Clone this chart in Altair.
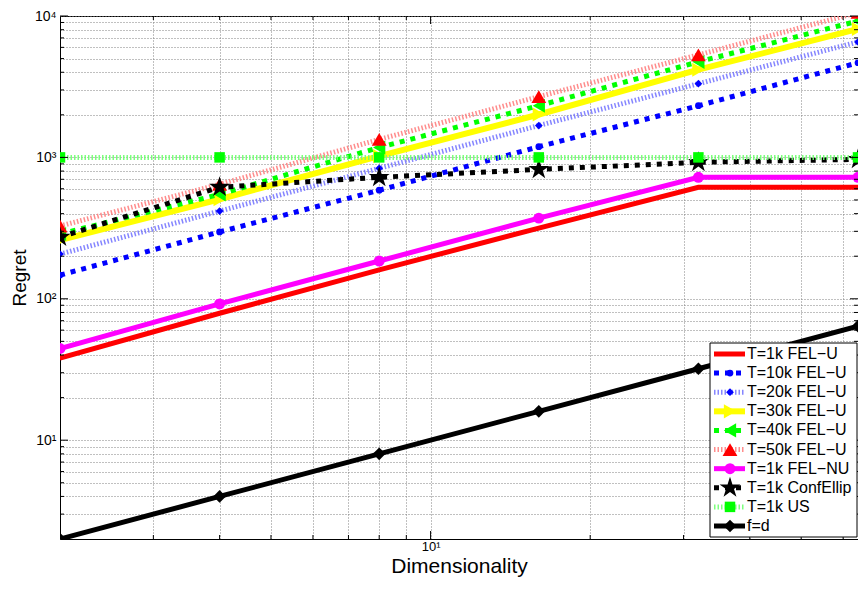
import altair as alt
import pandas as pd

dims = [2, 4, 8, 16, 32, 64]

names = [
    "T=1k FEL\u2212U", "T=10k FEL\u2212U", "T=20k FEL\u2212U", "T=30k FEL\u2212U",
    "T=40k FEL\u2212U", "T=50k FEL\u2212U", "T=1k FEL\u2212NU", "T=1k ConfEllip",
    "T=1k US", "f=d",
]
fel_u_1k = [38, 79, 160, 316, 615, 615]
fel_u_10k = [147, 297, 586, 1190, 2320, 4670]
fel_u_20k = [207, 417, 837, 1680, 3320, 6560]
fel_u_30k = [260, 506, 1020, 2010, 4170, 8090]
fel_u_40k = [287, 548, 1175, 2320, 4740, 9220]
fel_u_50k = [327, 645, 1340, 2690, 5310, 10600]
fel_nu_1k = [44.5, 92, 185, 372, 723, 723]
conf_ellip = [273, 615, 723, 822, 923, 968]
us_1k = [1000, 1000, 1000, 1000, 1000, 1000]
f_d = [2, 4, 8, 16, 32, 64]
series_vals = [fel_u_1k, fel_u_10k, fel_u_20k, fel_u_30k, fel_u_40k,
               fel_u_50k, fel_nu_1k, conf_ellip, us_1k, f_d]

x_grid = [2, 3, 4, 5, 6, 7, 8, 9, 10, 20, 30, 40, 50, 60]
y_grid = [2, 3, 4, 5, 6, 7, 8, 9, 10, 20, 30, 40, 50, 60, 70, 80, 90,
          100, 200, 300, 400, 500, 600, 700, 800, 900,
          1000, 2000, 3000, 4000, 5000, 6000, 7000, 8000, 9000, 10000]
x_major = [10]
y_major = [10, 100, 1000, 10000]

STAR = ("M0,-1L0.2245,-0.309L0.9511,-0.309L0.3633,0.118L0.5878,0.809L0,0.382"
        "L-0.5878,0.809L-0.3633,0.118L-0.9511,-0.309L-0.2245,-0.309Z")

styles = [
    dict(color="#ff0000", dash=None, width=5, opacity=1, shape="circle", size=10, mcolor="#ff0000"),
    dict(color="#0000ff", dash=[5, 6], width=5, opacity=1, shape="circle", size=45, mcolor="#0000ff"),
    dict(color="#7070ff", dash=[1.5, 2], width=5, opacity=0.85, shape="diamond", size=60, mcolor="#0000ff"),
    dict(color="#ffff00", dash=None, width=6, opacity=1, shape="triangle-right", size=200, mcolor="#ffff00"),
    dict(color="#00ff00", dash=[5, 6], width=5, opacity=1, shape="triangle-left", size=200, mcolor="#00ff00"),
    dict(color="#ff8080", dash=[1.5, 2], width=5, opacity=0.9, shape="triangle-up", size=220, mcolor="#ff0000"),
    dict(color="#ff00ff", dash=None, width=5, opacity=1, shape="circle", size=120, mcolor="#ff00ff"),
    dict(color="#000000", dash=[5, 6], width=5, opacity=1, shape=STAR, size=480, mcolor="#000000"),
    dict(color="#70ff70", dash=[1.5, 2], width=5, opacity=0.9, shape="square", size=110, mcolor="#00ff00"),
    dict(color="#000000", dash=None, width=5, opacity=1, shape="diamond", size=160, mcolor="#000000"),
]

rows = []
for name, vals in zip(names, series_vals):
    for d, v in zip(dims, vals):
        rows.append({"series": name, "d": d, "regret": v})
df = pd.DataFrame(rows)

FONT = "Liberation Sans"
W, H = 798, 523

x_scale = alt.Scale(type="log", domain=[2, 64], nice=False)
y_scale = alt.Scale(type="log", domain=[2, 10000], nice=False)

x_axis = alt.Axis(values=x_grid, labelExpr="datum.value == 10 ? '10\u00b9' : ''",
                  ticks=False, grid=True, gridDash=[1, 2], gridColor="#808080",
                  domainColor="black", labelFont=FONT, labelFontSize=13,
                  labelColor="black", labelPadding=1, labelOverlap=False,
                  labelFlush=False, titleFont=FONT, titleFontSize=21,
                  titleFontWeight="normal", titleColor="black",
                  titleBaseline="alphabetic", titleY=33, titleX=W / 2)
y_axis = alt.Axis(values=y_grid,
                  labelExpr="datum.value == 10 ? '10\u00b9' : datum.value == 100 ? '10\u00b2' : datum.value == 1000 ? '10\u00b3' : datum.value == 10000 ? '10\u2074' : ''",
                  ticks=False, grid=True, gridDash=[1, 2], gridColor="#808080",
                  domainColor="black", labelFont=FONT, labelFontSize=14,
                  labelColor="black", labelPadding=4, labelOverlap=False,
                  labelFlush=False, titleFont=FONT, titleFontSize=19,
                  titleFontWeight="normal", titleColor="black",
                  titleBaseline="alphabetic", titleAngle=270, titleX=-35, titleY=H / 2)


def X(field):
    return alt.X(f"{field}:Q", scale=x_scale, axis=x_axis, title="Dimensionality")


def Y(field):
    return alt.Y(f"{field}:Q", scale=y_scale, axis=y_axis, title="Regret")


base = alt.Chart(df)
data_layers = []
for name, st in zip(names, styles):
    kw = dict(color=st["color"], strokeWidth=st["width"], opacity=st["opacity"], clip=True)
    if st["dash"]:
        kw["strokeDash"] = st["dash"]
    sub = base.transform_filter(alt.datum.series == name)
    data_layers.append(sub.mark_line(**kw).encode(x=X("d"), y=Y("regret")))
    data_layers.append(sub.mark_point(filled=True, shape=st["shape"], size=st["size"],
                                      color=st["mcolor"], opacity=1, clip=True)
                       .encode(x=X("d"), y=Y("regret")))

# inward ticks on all four sides
tick_df_x = pd.DataFrame({"d": x_grid[1:], "major": [v in x_major for v in x_grid[1:]]})
tick_df_y = pd.DataFrame({"regret": y_grid[1:], "major": [v in y_major for v in y_grid[1:]]})
for major, ln in [(True, 8), (False, 4)]:
    tx = alt.Chart(tick_df_x).transform_filter(alt.datum.major == major)
    ty = alt.Chart(tick_df_y).transform_filter(alt.datum.major == major)
    data_layers.append(tx.mark_rule(color="black", strokeWidth=1).encode(
        x=X("d"), y=alt.value(H), y2=alt.value(H - ln)))
    data_layers.append(tx.mark_rule(color="black", strokeWidth=1).encode(
        x=X("d"), y=alt.value(0), y2=alt.value(ln)))
    data_layers.append(ty.mark_rule(color="black", strokeWidth=1).encode(
        y=Y("regret"), x=alt.value(0), x2=alt.value(ln)))
    data_layers.append(ty.mark_rule(color="black", strokeWidth=1).encode(
        y=Y("regret"), x=alt.value(W), x2=alt.value(W - ln)))

data_group = alt.layer(*data_layers)

# legend
legend_df = pd.DataFrame({"idx": list(range(len(names))), "label": names})
ly = alt.Scale(domain=[0, 9], range=[338, 510], nice=False, zero=False)
LX = W - 148
box = alt.Chart(pd.DataFrame({"k": [0]})).mark_rect(
    fill="white", stroke="black", strokeWidth=1).encode(
    x=alt.value(LX), x2=alt.value(W - 1), y=alt.value(327), y2=alt.value(521))
legend_layers = [box]
for i, st in enumerate(styles):
    sub = alt.Chart(legend_df).transform_filter(alt.datum.idx == i)
    kw = dict(color=st["color"], strokeWidth=st["width"], opacity=st["opacity"])
    if st["dash"]:
        kw["strokeDash"] = st["dash"]
    legend_layers.append(sub.mark_rule(**kw).encode(
        x=alt.value(LX + 4), x2=alt.value(LX + 35), y=alt.Y("idx:Q", scale=ly, axis=None)))
    legend_layers.append(sub.mark_point(filled=True, shape=st["shape"], size=st["size"],
                                        color=st["mcolor"], opacity=1).encode(
        x=alt.value(LX + 20), y=alt.Y("idx:Q", scale=ly, axis=None)))
legend_layers.append(alt.Chart(legend_df).mark_text(
    align="left", baseline="middle", font=FONT, fontSize=16, color="black").encode(
    x=alt.value(LX + 37), y=alt.Y("idx:Q", scale=ly, axis=None), text="label:N"))
legend_group = alt.layer(*legend_layers)

chart = alt.layer(data_group, legend_group).resolve_scale(y="independent").properties(
    width=W, height=H,
    autosize=alt.AutoSizeParams(type="none"),
    padding={"left": 52, "top": 8, "right": 0, "bottom": 38},
    background="white",
).configure_view(stroke="black", strokeWidth=1)

chart.save("out.html", embed_options={"renderer": "svg", "actions": False})
